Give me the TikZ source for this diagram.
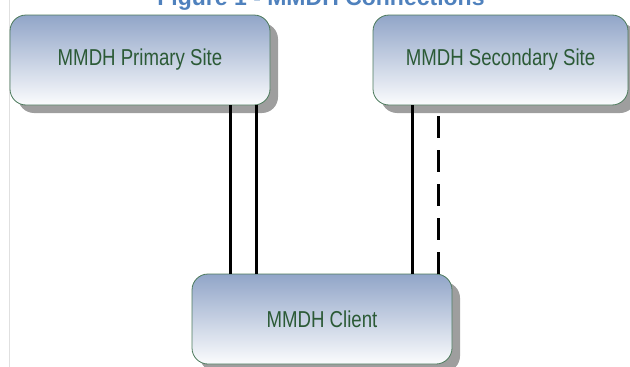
\documentclass[tikz,border=0pt]{standalone}
\usepackage{fontspec}
\setmainfont{Liberation Sans}
\newfontfamily\sitefont[FakeStretch=0.81]{Liberation Sans}
\usetikzlibrary{shadows}
\definecolor{sitetext}{HTML}{2B5A36}
\definecolor{siteedge}{HTML}{4C7A5C}
\definecolor{sitetop}{HTML}{91A5C8}
\definecolor{titleblue}{HTML}{4F81BD}
\begin{document}
\begin{tikzpicture}[x=1pt, y=-1pt, line join=round,
		site/.style={draw=siteedge, line width=0.8pt, rounded corners=16pt, top color=sitetop, bottom color=white!96!sitetop,
			minimum width=260pt, minimum height=90pt, inner sep=0pt, text=sitetext, font=\sitefont\fontsize{23}{23}\selectfont,
			drop shadow={shadow xshift=8pt, shadow yshift=-8pt, fill=black!38, opacity=1}},
		link/.style={line width=2.6pt, black},
		backup/.style={link, dash pattern=on 22pt off 12pt}]
		\useasboundingbox (0,0) rectangle (630,367);
		\draw [black!12, line width=0.8pt] (9,0)--(9,367);
		\node [font=\bfseries\fontsize{23}{23}\selectfont, text=titleblue, anchor=base] (title) at (321,5) {Figure 1 - MMDH Connections};
		\node [site] (primary) at (140,60) {MMDH Primary Site};
		\node [site, minimum width=255pt] (secondary) at (500.5,60) {MMDH Secondary Site};
		\node [site] (client) at (322,319) {MMDH Client};
		% links to the client
		\draw [link] ([xshift=39pt]client.north west) -- ([xshift=39pt]client.north west |- primary.south);
		\draw [link] ([xshift=65pt]client.north west) -- ([xshift=65pt]client.north west |- primary.south);
		\draw [link] ([xshift=-40pt]client.north east) -- ([xshift=-40pt]client.north east |- secondary.south);
		\draw [backup] ([xshift=-14pt]client.north east) -- ([xshift=-14pt]client.north east |- secondary.south);
	\end{tikzpicture}
\end{document}
